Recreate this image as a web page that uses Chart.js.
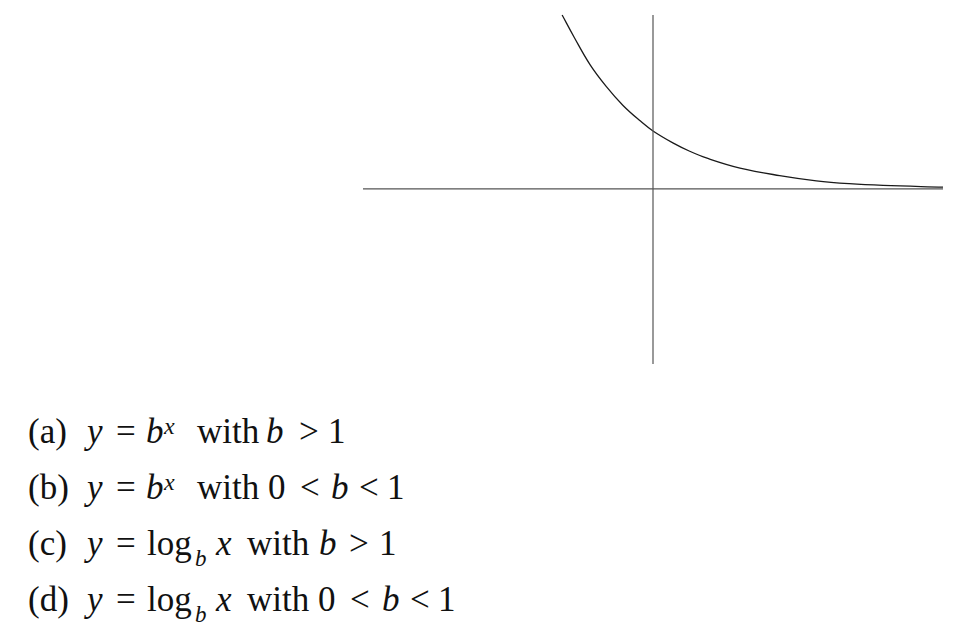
<!DOCTYPE html>
<html>
<head>
<meta charset="utf-8">
<script src="https://cdn.jsdelivr.net/npm/chart.js@4"></script>
<style>
  html, body { margin: 0; padding: 0; background: #fff; }
  body { width: 957px; height: 637px; position: relative; overflow: hidden; }
  #plot { position: absolute; left: 353px; top: 5px; width: 600px; height: 369px; }
  .choice { position: absolute; left: 0; font-family: "Liberation Serif", "DejaVu Serif", serif; font-size: 35px; color: #111; white-space: nowrap; line-height: 35px; }
  .choice span { display: inline-block; }
  .it { font-style: italic; }
  .sup { font-size: 24px; position: relative; top: -9px; }
  .sub { font-size: 23px; position: relative; top: 11px; }
</style>
</head>
<body>
<div id="plot"><canvas id="chart_exp"></canvas></div>
<div id="choices"></div>

<script>
// curve y = b^x (0 < b < 1)
const curveX = [-0.94, -0.82, -0.65, -0.48, -0.31, -0.13, 0, 0.21, 0.38, 0.56, 0.90, 1.31, 1.69, 2.03, 2.38, 3.0];
const curveY = [3.0, 2.63, 2.14, 1.76, 1.44, 1.17, 1.0, 0.79, 0.65, 0.53, 0.36, 0.23, 0.14, 0.09, 0.06, 0.03];

// axis extents
const xAxisRange = [-3, 3];
const yAxisRange = [-3.02, 3];

// answer choices: [text, left px, class]
const choiceBaselines = [443, 499, 555, 611];
const choiceA = [['(a)', 28], ['y', 87, 'it'], ['=', 116], ['b', 146, 'it'], ['x', 164, 'it sup'], ['with', 197], ['b', 266, 'it'], ['>', 299], ['1', 328]];
const choiceB = [['(b)', 28], ['y', 87, 'it'], ['=', 116], ['b', 146, 'it'], ['x', 164, 'it sup'], ['with', 197], ['0', 268], ['<', 300], ['b', 331, 'it'], ['<', 359], ['1', 387]];
const choiceC = [['(c)', 28], ['y', 87, 'it'], ['=', 116], ['log', 147], ['b', 195, 'it sub'], ['x', 216, 'it'], ['with', 247], ['b', 319, 'it'], ['>', 349], ['1', 379]];
const choiceD = [['(d)', 28], ['y', 87, 'it'], ['=', 116], ['log', 147], ['b', 195, 'it sub'], ['x', 216, 'it'], ['with', 247], ['0', 318], ['<', 350], ['b', 382, 'it'], ['<', 410], ['1', 438]];

function drawChoices() {
    const holder = document.getElementById('choices');
    [choiceA, choiceB, choiceC, choiceD].forEach((tokens, row) => {
        const line = document.createElement('div');
        line.className = 'choice';
        line.style.top = (choiceBaselines[row] - 29) + 'px';
        holder.appendChild(line);
        let x = 0;
        tokens.forEach(t => {
            const s = document.createElement('span');
            s.textContent = t[0];
            if (t[2]) s.className = t[2];
            s.style.marginLeft = (t[1] - x) + 'px';
            line.appendChild(s);
            x = t[1] + s.getBoundingClientRect().width;
        });
    });
}

function chartExp() {
    const curve = curveX.map((x, i) => ({ x: x, y: curveY[i] }));
    const xAxisLine = xAxisRange.map(x => ({ x: x, y: 0 }));
    const yAxisLine = yAxisRange.map(y => ({ x: 0, y: y }));

    document.chartExp = new Chart(document.getElementById('chart_exp'), {
        type: 'line',
        data: {
            datasets: [
                { data: xAxisLine, borderColor: '#555', borderWidth: 1.2, pointRadius: 0, clip: false },
                { data: yAxisLine, borderColor: '#555', borderWidth: 1.2, pointRadius: 0, clip: false },
                { data: curve, borderColor: '#1a1a1a', borderWidth: 1.3, pointRadius: 0, tension: 0.4, clip: false }
            ]
        },
        options: {
            responsive: true,
            maintainAspectRatio: false,
            animation: false,
            layout: { padding: 10 },
            scales: {
                x: { type: 'linear', min: xAxisRange[0], max: xAxisRange[1], display: false },
                y: { type: 'linear', min: yAxisRange[0], max: yAxisRange[1], display: false }
            },
            plugins: {
                legend: { display: false },
                tooltip: { enabled: false }
            }
        }
    });
}

drawChoices();
chartExp();
</script>
</body>
</html>
